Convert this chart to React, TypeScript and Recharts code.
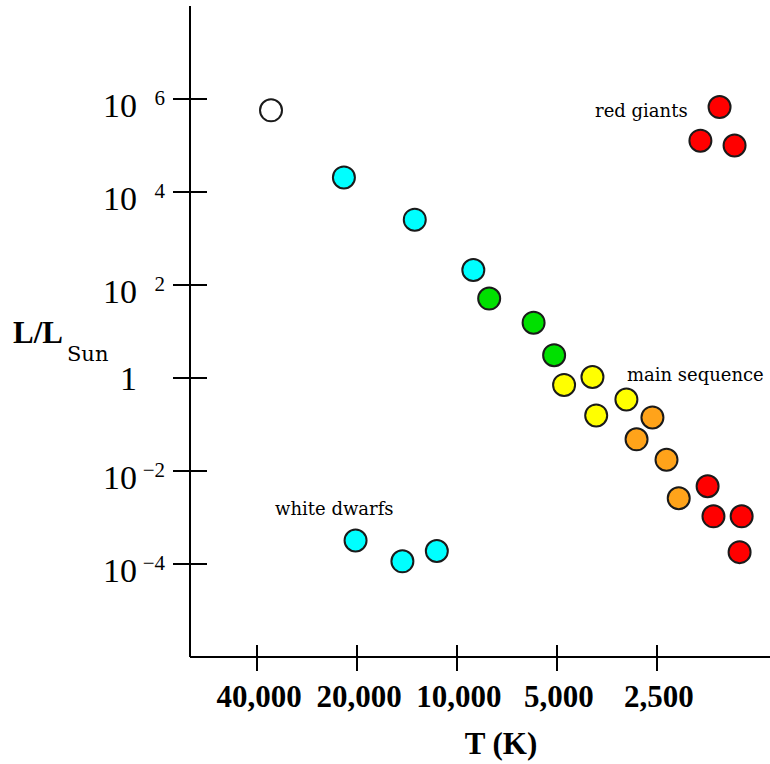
import React from 'react';
import { ScatterChart, Scatter, XAxis, YAxis, ReferenceDot } from 'recharts';

// T in kelvin, L in solar luminosities
const whiteStar = [{ t: 36300, l: 5.7e5 }];
const blueStars = [
  { t: 21900, l: 2.06e4 },
  { t: 13400, l: 2540 },
  { t: 8930, l: 210 },
];
const whiteDwarfs = [
  { t: 20200, l: 3.2e-4 },
  { t: 14600, l: 1.14e-4 },
  { t: 11500, l: 1.9e-4 },
];
const greenStars = [
  { t: 8000, l: 51 },
  { t: 5880, l: 15.5 },
  { t: 5100, l: 3.1 },
];
const yellowStars = [
  { t: 4760, l: 0.71 },
  { t: 3910, l: 1.05 },
  { t: 3810, l: 0.157 },
  { t: 3090, l: 0.345 },
];
const orangeStars = [
  { t: 2580, l: 0.142 },
  { t: 2880, l: 0.048 },
  { t: 2340, l: 0.0175 },
  { t: 2150, l: 0.0026 },
];
const redDwarfs = [
  { t: 1760, l: 0.0047 },
  { t: 1690, l: 0.00106 },
  { t: 1390, l: 0.00106 },
  { t: 1410, l: 1.8e-4 },
];
const redGiants = [
  { t: 1620, l: 6.7e5 },
  { t: 1850, l: 1.27e5 },
  { t: 1460, l: 1.0e5 },
];

const tempTicks = [40000, 20000, 10000, 5000, 2500];
const lumTicks = [1e6, 1e4, 1e2, 1, 1e-2, 1e-4];

const notes = [
  { t: 3840, l: 4.2e5, text: 'red giants' },
  { t: 3080, l: 0.875, text: 'main sequence' },
  { t: 35300, l: 1.15e-3, text: 'white dwarfs' },
];

const series = [
  { name: 'white', data: whiteStar, fill: '#ffffff' },
  { name: 'blue', data: blueStars, fill: '#00ffff' },
  { name: 'dwarfs', data: whiteDwarfs, fill: '#00ffff' },
  { name: 'green', data: greenStars, fill: '#00e000' },
  { name: 'yellow', data: yellowStars, fill: '#ffff00' },
  { name: 'orange', data: orangeStars, fill: '#ffa31a' },
  { name: 'red', data: redDwarfs, fill: '#ff0000' },
  { name: 'giants', data: redGiants, fill: '#ff0000' },
];

const SERIF = '"Liberation Serif", "Times New Roman", serif';
const NOTE_FONT = '"DejaVu Serif", serif';

const TempTick = ({ x, y, payload }: any) => (
  <g>
    <line x1={x} y1={y - 12} x2={x} y2={y + 14} stroke="#000" strokeWidth={2} />
    <text x={x + 2} y={y + 50} textAnchor="middle" fontFamily={SERIF} fontWeight="bold" fontSize={31} fill="#000">
      {Number(payload.value).toLocaleString('en-US')}
    </text>
  </g>
);

const LumTick = ({ x, y, payload }: any) => {
  const exp = Math.round(Math.log10(payload.value));
  return (
    <g>
      <line x1={x - 17} y1={y} x2={x + 17} y2={y} stroke="#000" strokeWidth={2} />
      {exp === 0 ? (
        <text x={x - 53} y={y + 12} textAnchor="end" fontFamily={SERIF} fontSize={34} fill="#000">1</text>
      ) : (
        <>
          <text x={x - 53} y={y + 18} textAnchor="end" fontFamily={SERIF} fontSize={34} fill="#000">10</text>
          <text x={x - 25} y={y + 6} textAnchor="end" fontFamily={SERIF} fontSize={21} fill="#000">
            {exp < 0 ? '\u2212' + Math.abs(exp) : exp}
          </text>
        </>
      )}
    </g>
  );
};

const LumLabel = ({ viewBox }: any) => {
  const vb = viewBox || { x: 0, y: 6, width: 190, height: 651 };
  const cy = vb.y + vb.height / 2;
  return (
    <text x={vb.x + 13} y={cy + 11} fontFamily={SERIF} fill="#000">
      <tspan fontSize={31} fontWeight="bold">L/L</tspan>
      <tspan fontFamily={NOTE_FONT} fontSize={21} dx={4} dy={18}>Sun</tspan>
    </text>
  );
};

const TempLabel = ({ viewBox }: any) => {
  const vb = viewBox || { x: 190, y: 657, width: 580, height: 107 };
  return (
    <text x={vb.x + vb.width / 2 + 21} y={vb.y + 97} textAnchor="middle" fontFamily={SERIF} fontWeight="bold" fontSize={31} fill="#000">
      T (K)
    </text>
  );
};

const star = (fill: string) => (p: any) => (
  <circle cx={p.cx} cy={p.cy} r={11} fill={fill} stroke="#1a1a1a" strokeWidth={2} />
);

export default function App() {
  return (
    <div style={{ position: 'absolute', left: 0, top: 0, width: 770, height: 764, background: '#fff' }}>
      <ScatterChart width={770} height={764} margin={{ top: 6, right: 0, bottom: 0, left: 0 }}>
        <XAxis
          type="number"
          dataKey="t"
          scale="log"
          domain={[1142, 63650]}
          allowDataOverflow
          reversed
          ticks={tempTicks}
          interval={0}
          height={107}
          tickSize={0}
          tickMargin={0}
          tickLine={false}
          axisLine={{ stroke: '#000', strokeWidth: 2 }}
          tick={<TempTick />}
          label={<TempLabel />}
        />
        <YAxis
          type="number"
          dataKey="l"
          scale="log"
          domain={[1e-6, 1e8]}
          allowDataOverflow
          ticks={lumTicks}
          interval={0}
          width={190}
          tickSize={0}
          tickMargin={0}
          tickLine={false}
          axisLine={{ stroke: '#000', strokeWidth: 2 }}
          tick={<LumTick />}
          label={<LumLabel />}
        />
        {series.map((s) => (
          <Scatter key={s.name} name={s.name} data={s.data} shape={star(s.fill)} isAnimationActive={false} />
        ))}
        {notes.map((n) => (
          <ReferenceDot
            key={n.text}
            x={n.t}
            y={n.l}
            r={0}
            shape={(p: any) => (
              <text x={p.cx} y={p.cy} fontFamily={NOTE_FONT} fontSize={18} fill="#000">
                {n.text}
              </text>
            )}
          />
        ))}
      </ScatterChart>
    </div>
  );
}
